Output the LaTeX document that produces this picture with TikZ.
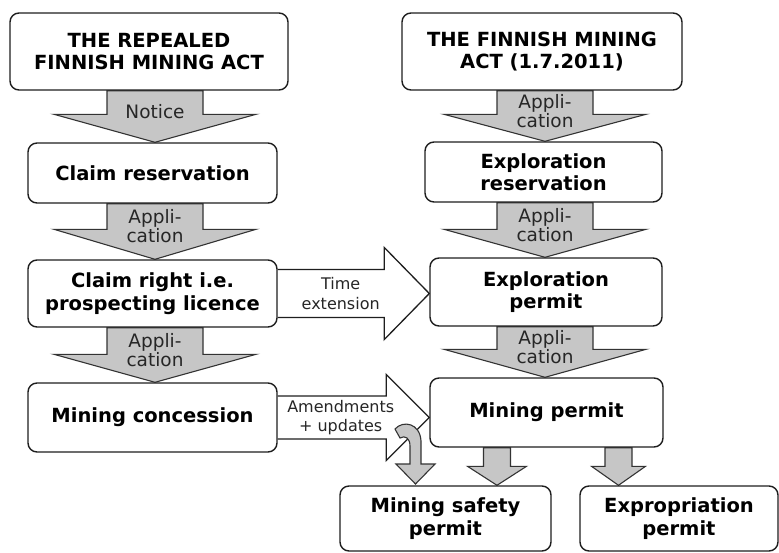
\documentclass[tikz,border=0pt]{standalone}
\usepackage{fontspec}
\setmainfont{DejaVu Sans}
\usetikzlibrary{calc,backgrounds}

\definecolor{boxline}{HTML}{1E1E1E}
\definecolor{blockfill}{HTML}{C6C6C6}
\definecolor{blockline}{HTML}{333333}
\definecolor{labelink}{HTML}{262626}

\newcommand\boxfont{\fontsize{19.5}{22.5}\selectfont\bfseries}
\newcommand\arrowfont{\fontsize{18.5}{19}\selectfont}
\newcommand\sidefont{\fontsize{16}{19.5}\selectfont}

\tikzset{
  box/.style={draw=boxline, line width=1.4pt, rounded corners=9pt, fill=white,
    align=center, font=\boxfont, inner sep=0pt, text=black},
  grayblock/.style={fill=blockfill, draw=blockline, line width=1.1pt, line join=miter},
  whiteblock/.style={fill=white, draw=boxline, line width=1.3pt, line join=miter},
  arrowlabel/.style={font=\arrowfont, align=center, text=labelink, inner sep=0pt},
  sidelabel/.style={font=\sidefont, align=center, text=labelink, inner sep=0pt},
}

% grey block arrow pointing down from node #1 to node #2
% #3 centre x, #4 shaft half width, #5 head half width, #6 head length, #7 label
\newcommand\downblock[7]{%
  \filldraw[grayblock] let \p1=(#1.south), \p2=(#2.north) in
    ({(#3-#4)*1pt},\y1) -- ({(#3-#4)*1pt},\y2+#6pt) -- ({(#3-#5)*1pt},\y2+#6pt)
    -- ({#3*1pt},\y2) -- ({(#3+#5)*1pt},\y2+#6pt) -- ({(#3+#4)*1pt},\y2+#6pt)
    -- ({(#3+#4)*1pt},\y1) -- cycle
    ({#3*1pt},{(\y1+\y2)/2+5pt}) node[arrowlabel] {#7};
}

% white block arrow pointing right from node #1 to node #2
% #3 shaft half width, #4 head half width, #5 head length, #6 label offset, #7 label
\newcommand\sideblock[7]{%
  \filldraw[whiteblock] let \p1=(#1.east), \p2=(#2.west) in
    (\x1,\y1+#3pt) -- (\x2-#5pt,\y1+#3pt) -- (\x2-#5pt,\y1+#4pt) -- (\x2,\y1)
    -- (\x2-#5pt,\y1-#4pt) -- (\x2-#5pt,\y1-#3pt) -- (\x1,\y1-#3pt)
    (\x1+#6pt,\y1) node[sidelabel] {#7};
}

\begin{document}
\begin{tikzpicture}[x=1pt, y=-1pt]
  \useasboundingbox (0,0) rectangle (779,552);

  % left column: the repealed act
  \node[box, minimum width=278pt, minimum height=77pt] (repealed) at (149,51.5)
    {THE REPEALED\\FINNISH MINING ACT};
  \node[box, minimum width=249pt, minimum height=60pt] (claimres) at (152.5,173)
    {Claim reservation};
  \node[box, minimum width=249pt, minimum height=67pt] (claimright) at (152.5,293.5)
    {Claim right i.e.\\prospecting licence};
  \node[box, minimum width=249pt, minimum height=69pt] (concession) at (152.5,417.5)
    {Mining concession};

  % right column: the current act
  \node[box, minimum width=280pt, minimum height=77pt] (newact) at (542,51.5)
    {THE FINNISH MINING\\ACT (1.7.2011)};
  \node[box, minimum width=237pt, minimum height=60pt] (expres) at (543.5,172)
    {Exploration\\reservation};
  \node[box, minimum width=232pt, minimum height=68pt] (expperm) at (546,292)
    {Exploration\\permit};
  \node[box, minimum width=233pt, minimum height=69pt] (minperm) at (546.5,412.5)
    {Mining permit};

  % bottom row
  \node[box, minimum width=211pt, minimum height=65pt] (safety) at (445.5,518.5)
    {Mining safety\\permit};
  \node[box, minimum width=198pt, minimum height=65pt] (exprop) at (679,518.5)
    {Expropriation\\permit};

  \begin{pgfonlayer}{background}
    \downblock{repealed}{claimres}{155}{48}{101}{28}{Notice}
    \downblock{claimres}{claimright}{155}{48}{101}{30}{Appli-\\cation}
    \downblock{claimright}{concession}{155}{48}{101}{28}{Appli-\\cation}

    \downblock{newact}{expres}{545}{48}{101}{27}{Appli-\\cation}
    \downblock{expres}{expperm}{545}{48}{101}{28}{Appli-\\cation}
    \downblock{expperm}{minperm}{545}{48}{101}{28}{Appli-\\cation}

    \downblock{minperm}{safety}{497}{13.5}{29.5}{19}{}
    \downblock{minperm}{exprop}{618.5}{13.5}{27}{19}{}

    \sideblock{claimright}{expperm}{24}{46}{45}{63}{Time\\extension}
    \sideblock{concession}{minperm}{21.5}{43}{43}{63}{Amendments\\+ updates}

    % hooked arrow from the amendments arrow down to the safety permit
    \filldraw[grayblock]
      (395,429) .. controls (403,420) and (420,423) .. (421,441)
      -- (421,464) -- (435,464) -- (415.5,484) -- (396,464) -- (410,464)
      -- (410,446) .. controls (410,438) and (405,435) .. (400,438) -- cycle;
  \end{pgfonlayer}
\end{tikzpicture}
\end{document}
